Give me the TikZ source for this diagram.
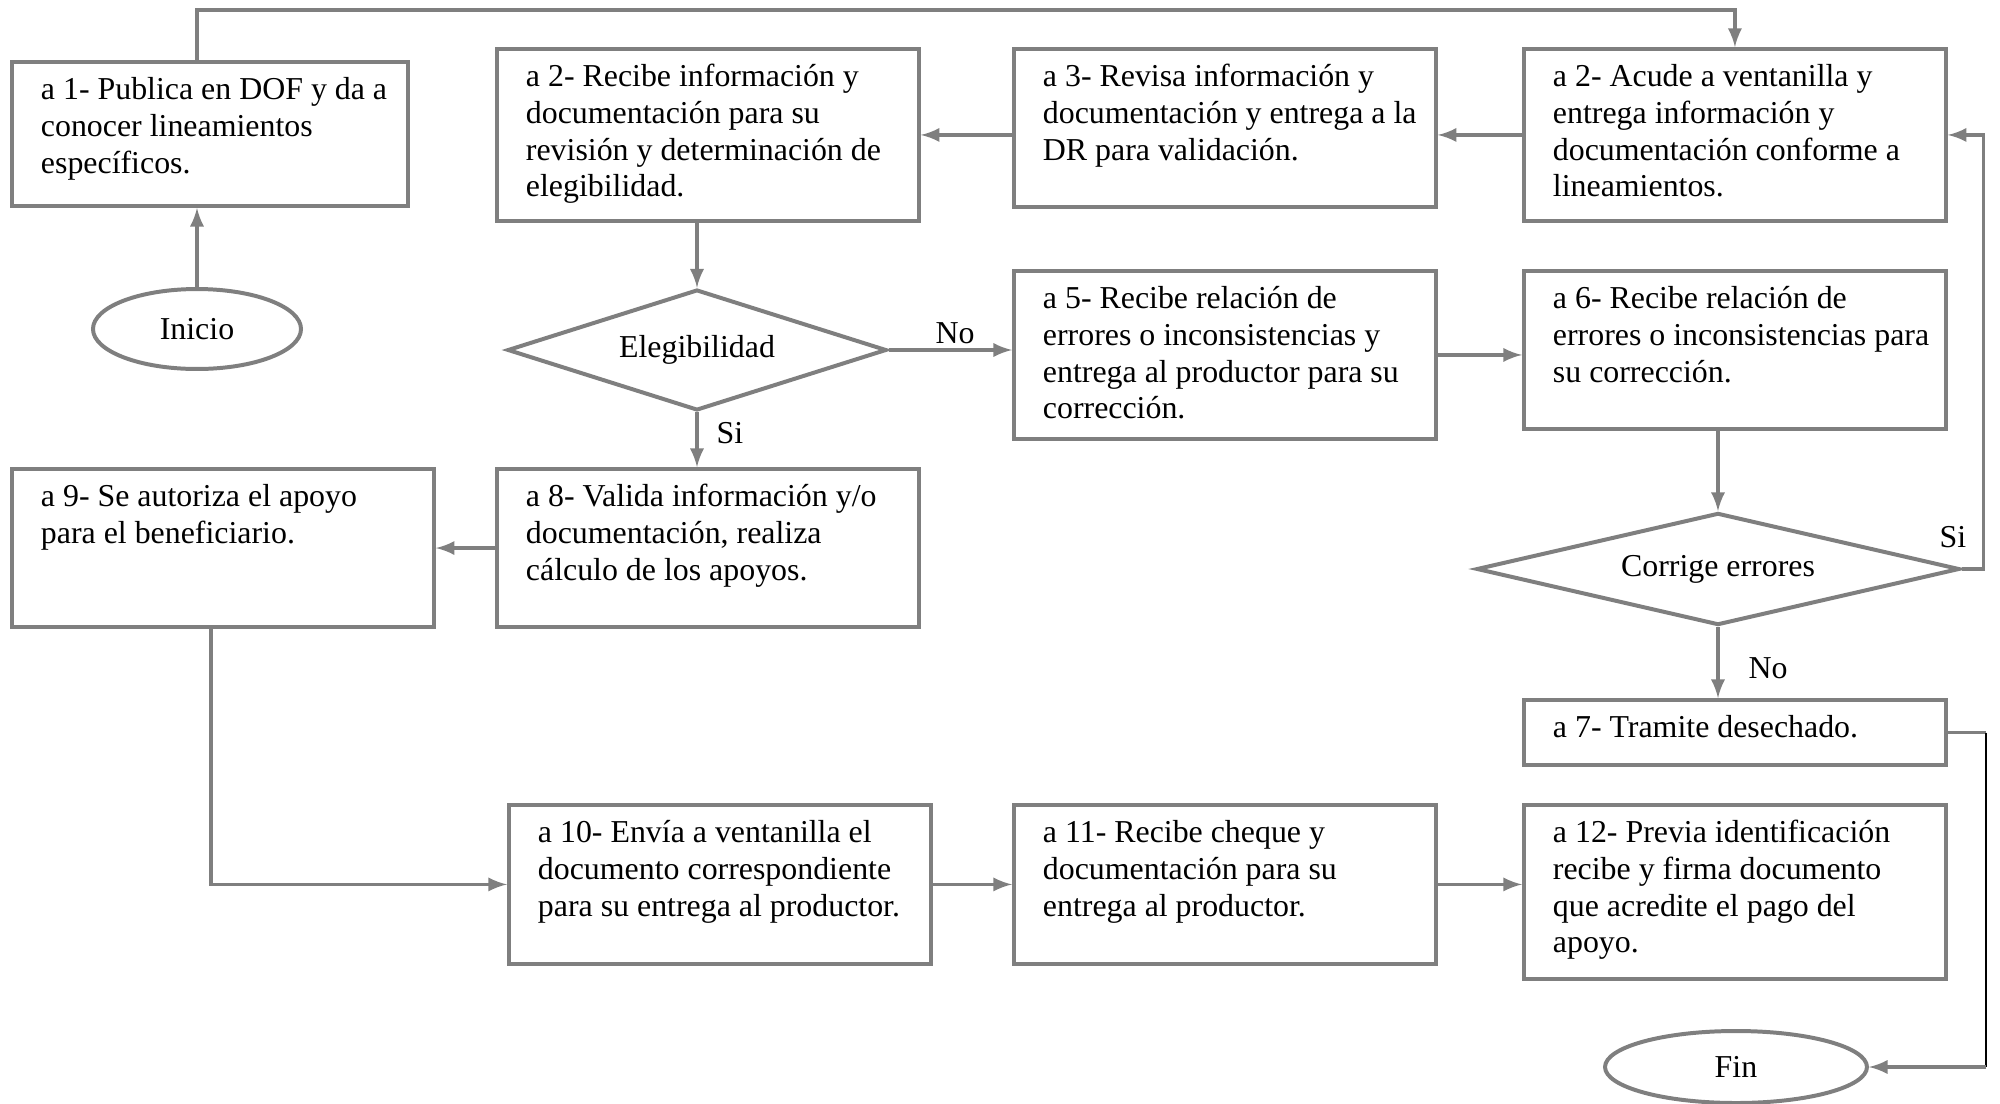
\documentclass[tikz,border=0pt]{standalone}
\usepackage{fontspec}
\setmainfont{Liberation Serif}
\usetikzlibrary{shapes,arrows,positioning,fit,calc}

\definecolor{gris}{RGB}{127,127,127}

\tikzset{
  caja/.style={draw=gris, line width=1.5pt, anchor=north west, text width=158.8pt,
    inner xsep=0pt, inner ysep=0pt, text height=14.3pt,
    execute at begin node={\leftskip=10.9pt\spaceskip=0pt\xspaceskip=0pt},
    font=\fontsize{12}{13.8}\selectfont},
  terminal/.style={ellipse, draw=gris, line width=1.5pt, inner sep=0pt,
    font=\fontsize{12}{13.8}\selectfont},
  decision/.style={diamond, draw=gris, line width=1.5pt, inner sep=0pt,
    font=\fontsize{12}{13.8}\selectfont},
  linea/.style={gris, line width=1.4pt, ->, >=latex},
  etiqueta/.style={font=\fontsize{12}{13.8}\selectfont}
}

\begin{document}
\begin{tikzpicture}[x=0.3764pt, y=-0.3764pt]
\useasboundingbox (0,0) rectangle (2000,1104);

% Inicio and first row
\node[terminal, minimum width=78.3pt, minimum height=30.1pt] (inicio) at (197,329) {Inicio};
\node[caja, text width=149.1pt, text depth=39.9pt] (a1) at (10,60) {a 1- Publica en DOF y da a\\conocer lineamientos\\específicos.};
\node[caja, text depth=50.4pt] (a2) at (495,47) {a 2- Recibe información y\\documentación para su\\revisión y determinación de\\elegibilidad.};
\node[caja, text depth=45.2pt] (a3) at (1012,47) {a 3- Revisa información y\\documentación y entrega a la\\DR para validación.};
\node[caja, text depth=50.4pt] (a2b) at (1522,47) {a 2- Acude a ventanilla y\\entrega información y\\documentación conforme a\\lineamientos.};

% Decisions and corrections
\node[decision, aspect=3.1, minimum width=142.7pt, minimum height=45.5pt] (eleg) at (697,350) {Elegibilidad};
\node[caja, text depth=48.9pt] (a5) at (1012,269) {a 5- Recibe relación de\\errores o inconsistencias y\\entrega al productor para su\\corrección.};
\node[caja, text depth=45.2pt] (a6) at (1522,269) {a 6- Recibe relación de\\errores o inconsistencias para\\su corrección.};
\node[decision, aspect=4.3, minimum width=181.8pt, minimum height=42.2pt] (corr) at (1718,569) {Corrige errores};

% Validation
\node[caja, text depth=45.2pt] (a9) at (10,467) {a 9- Se autoriza el apoyo\\para el beneficiario.};
\node[caja, text depth=45.2pt] (a8) at (495,467) {a 8- Valida información y/o\\documentación, realiza\\cálculo de los apoyos.};
\node[caja, text depth=10.2pt] (a7) at (1522,698) {a 7- Tramite desechado.};

% Payment row
\node[caja, text depth=45.5pt] (a10) at (507,803) {a 10- Envía a ventanilla el\\documento correspondiente\\para su entrega al productor.};
\node[caja, text depth=45.5pt] (a11) at (1012,803) {a 11- Recibe cheque y\\documentación para su\\entrega al productor.};
\node[caja, text depth=51.2pt] (a12) at (1522,803) {a 12- Previa identificación\\recibe y firma documento\\que acredite el pago del\\apoyo.};
\node[terminal, minimum width=98.6pt, minimum height=27.1pt] (fin) at (1736,1067) {Fin};

% Connectors
\draw[linea] (inicio.north) -- (inicio.north |- a1.south);
\draw[linea] (inicio.north |- a1.north) -- ++(0,-50) -| (a2b.north);
\draw[linea] (a2b.west) -- (a3.east |- a2b.west);
\draw[linea] (a3.west |- a2.east) -- (a2.east);
\draw[linea] (eleg.north |- a2.south) -- (eleg.north);
\draw[linea] (eleg.east) -- (a5.west |- eleg.east);
\draw[linea] (eleg.south) -- (a8.north -| eleg.south);
\draw[linea] (a5.east) -- (a6.west |- a5.east);
\draw[linea] (corr.north |- a6.south) -- (corr.north);
\draw[linea] (corr.east) -- ++(22,0) |- (a2b.east);
\draw[linea] (corr.south) -- (a7.north -| corr.south);
\draw[linea] (a8.west) -- (a9.east |- a8.west);
\draw[linea] ([xshift=-4.5pt]a9.south) |- (a10.west);
\foreach \desde/\hasta in {a10/a11, a11/a12}
  \draw[linea] (\desde.east) -- (\hasta.west |- \desde.east);

% Desechado to Fin (thin black riser)
\draw[gris, line width=1.4pt] (a7.east) -- ++(38,0) coordinate (c1);
\draw[black, line width=0.6pt] (c1) -- (c1 |- fin.east) coordinate (c2);
\draw[linea] (c2) -- (fin.east);

% Labels
\node[etiqueta] (no1) at (955,333) {No};
\node[etiqueta] (si1) at (730,433) {Si};
\node[etiqueta] (si2) at (1953,537) {Si};
\node[etiqueta] (no2) at (1768,668) {No};
\end{tikzpicture}
\end{document}
